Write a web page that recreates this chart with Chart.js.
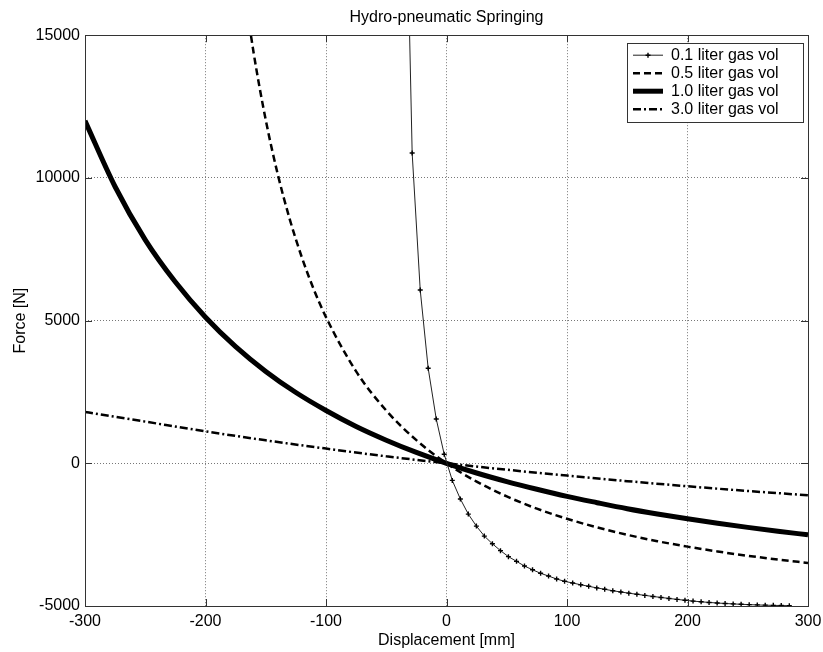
<!DOCTYPE html>
<html>
<head>
<meta charset="utf-8">
<title>Hydro-pneumatic Springing</title>
<script src="https://cdn.jsdelivr.net/npm/chart.js@4.4.0/dist/chart.umd.min.js"></script>
<style>
  html, body { margin: 0; padding: 0; background: #fff; }
</style>
</head>
<body>
<canvas id="chart" width="823" height="652"></canvas>
<script>
const chartTitle = 'Hydro-pneumatic Springing';
const xTitle = 'Displacement [mm]';
const yTitle = 'Force [N]';
const seriesLabels = ['0.1 liter gas vol', '0.5 liter gas vol', '1.0 liter gas vol', '3.0 liter gas vol'];

const xTicks = [-300, -200, -100, 0, 100, 200, 300];
const yTicks = [-5000, 0, 5000, 10000, 15000];

// 0.1 liter - sampled curve, every sample is marked
const disp01 = [-35.2, -28.5, -21.8, -15.2, -8.5, -1.9, 4.8, 11.5, 18.1, 24.8, 31.4, 38.1, 44.8, 51.4, 58.1, 64.7,
  71.4, 78.1, 84.7, 91.4, 98.0, 104.7, 111.4, 118.0, 124.7, 131.3, 138.0, 144.7, 151.3, 158.0, 164.6, 171.3,
  178.0, 184.6, 191.3, 197.9, 204.6, 211.3, 217.9, 224.6, 231.2, 237.9, 244.5, 251.2, 257.9, 264.5, 271.2,
  277.8, 284.5];
const force01 = [24000, 10870, 6070, 3330, 1550, 315, -600, -1250, -1780, -2200, -2550, -2820, -3060, -3270, -3435, -3600,
  -3730, -3855, -3950, -4055, -4135, -4195, -4255, -4310, -4365, -4415, -4465, -4510, -4550, -4590, -4628, -4665,
  -4700, -4735, -4768, -4800, -4828, -4853, -4875, -4895, -4912, -4927, -4940, -4952, -4962, -4971, -4978,
  -4984, -4990];

// 0.5 liter
const disp05 = [-170, -160, -150, -140, -130, -120, -110, -100, -75, -50, -25, 0, 25, 50, 75, 100, 125, 150, 175, 200, 225, 250, 275, 300];
const force05 = [17270, 14370, 12030, 10120, 8540, 7210, 6080, 5120, 3220, 1850, 810, 0, -640, -1160, -1590, -1945, -2245, -2505, -2730, -2920, -3090, -3240, -3370, -3490];

// 1.0 liter
const disp10 = [-300, -275, -250, -225, -200, -175, -150, -125, -100, -75, -50, -25, 0, 25, 50, 75, 100, 125, 150, 175, 200, 225, 250, 275, 300];
const force10 = [12000, 9690, 7830, 6350, 5120, 4090, 3220, 2480, 1850, 1290, 810, 380, 0, -340, -640, -910, -1160, -1380, -1590, -1775, -1945, -2100, -2245, -2380, -2505];

// 3.0 liter
const disp30 = [-300, -250, -200, -150, -100, -50, 0, 50, 100, 150, 200, 250, 300];
const force30 = [1800, 1460, 1120, 805, 515, 245, 0, -225, -430, -625, -805, -970, -1120];

const FONT = "'Liberation Sans', Arial, Helvetica, sans-serif";

function pts(xs, ys) {
    return xs.map((x, i) => ({ x: x, y: ys[i] }));
}

function drawCross(ctx, x, y, r) {
    ctx.beginPath();
    ctx.moveTo(x - r, y); ctx.lineTo(x + r, y);
    ctx.moveTo(x, y - r); ctx.lineTo(x, y + r);
    ctx.stroke();
}

// legend box inside the axes, top right (matlab style)
const legendBox = {
    id: 'legendBox',
    afterDatasetsDraw(chart) {
        const { ctx, chartArea } = chart;
        const w = 176, h = 79;
        const left = chartArea.right - 5 - w;
        const top = chartArea.top + 8;
        ctx.save();
        ctx.fillStyle = '#fff';
        ctx.fillRect(left, top, w, h);
        ctx.strokeStyle = '#333';
        ctx.lineWidth = 1;
        ctx.strokeRect(Math.round(left) + 0.5, Math.round(top) + 0.5, w, h);

        chart.data.datasets.forEach((ds, i) => {
            const cy = top + 12 + i * 18;
            ctx.strokeStyle = ds.borderColor;
            ctx.lineWidth = ds.borderWidth;
            ctx.setLineDash(ds.borderDash || []);
            ctx.beginPath();
            ctx.moveTo(left + 6, cy);
            ctx.lineTo(left + 36, cy);
            ctx.stroke();
            ctx.setLineDash([]);
            if (ds.pointRadius > 0) {
                ctx.strokeStyle = '#000';
                ctx.lineWidth = ds.pointBorderWidth;
                drawCross(ctx, left + 21, cy, ds.pointRadius);
            }
            ctx.fillStyle = '#000';
            ctx.font = '16px ' + FONT;
            ctx.textBaseline = 'middle';
            ctx.textAlign = 'left';
            ctx.fillText(ds.label, left + 44, cy);
        });
        ctx.restore();
    }
};

// axes box and inward tick marks
const frame = {
    id: 'frame',
    afterDraw(chart) {
        const { ctx, chartArea: a, scales: { x, y } } = chart;
        ctx.save();
        ctx.strokeStyle = '#333';
        ctx.lineWidth = 1;
        ctx.beginPath();
        xTicks.forEach(v => {
            const px = Math.round(x.getPixelForValue(v)) + 0.5;
            ctx.moveTo(px, a.bottom); ctx.lineTo(px, a.bottom - 7);
            ctx.moveTo(px, a.top); ctx.lineTo(px, a.top + 7);
        });
        yTicks.forEach(v => {
            const py = Math.round(y.getPixelForValue(v)) + 0.5;
            ctx.moveTo(a.left, py); ctx.lineTo(a.left + 7, py);
            ctx.moveTo(a.right, py); ctx.lineTo(a.right - 7, py);
        });
        ctx.stroke();
        ctx.strokeRect(Math.round(a.left) + 0.5, Math.round(a.top) + 0.5,
            Math.round(a.right - a.left), Math.round(a.bottom - a.top));
        ctx.restore();
    }
};

const tickFont = { family: FONT, size: 16 };

new Chart(document.getElementById('chart').getContext('2d'), {
    type: 'scatter',
    data: {
        datasets: [
            {
                label: seriesLabels[0],
                data: pts(disp01, force01),
                showLine: true,
                borderColor: '#222',
                borderWidth: 1,
                pointStyle: 'cross',
                pointRadius: 2.5,
                pointBorderWidth: 1.4,
                pointBorderColor: '#000',
                pointBackgroundColor: '#000'
            },
            {
                label: seriesLabels[1],
                data: pts(disp05, force05),
                showLine: true,
                borderColor: '#000',
                borderWidth: 2.5,
                borderDash: [7, 4],
                pointRadius: 0,
                cubicInterpolationMode: 'monotone'
            },
            {
                label: seriesLabels[2],
                data: pts(disp10, force10),
                showLine: true,
                borderColor: '#000',
                borderWidth: 5,
                pointRadius: 0,
                cubicInterpolationMode: 'monotone'
            },
            {
                label: seriesLabels[3],
                data: pts(disp30, force30),
                showLine: true,
                borderColor: '#000',
                borderWidth: 2.5,
                borderDash: [8, 3, 2, 3],
                pointRadius: 0,
                cubicInterpolationMode: 'monotone'
            }
        ]
    },
    options: {
        responsive: false,
        animation: false,
        layout: { padding: { left: 0, right: 15, top: 0, bottom: 0 } },
        plugins: {
            legend: { display: false },
            tooltip: { enabled: false },
            title: {
                display: true,
                text: chartTitle,
                fullSize: false,
                color: '#000',
                font: { family: FONT, size: 16, weight: 'normal' },
                padding: { top: 8, bottom: 8 }
            }
        },
        scales: {
            x: {
                type: 'linear',
                min: -300,
                max: 300,
                afterBuildTicks: s => { s.ticks = xTicks.map(v => ({ value: v })); },
                afterFit: s => { s.height = 46; s.paddingLeft = 0; s.paddingRight = 0; },
                ticks: { color: '#000', font: tickFont, padding: 6, maxRotation: 0, callback: v => String(v) },
                grid: { color: '#777', drawTicks: false },
                border: { display: false, dash: [1, 2] },
                title: { display: true, text: xTitle, color: '#000', font: tickFont, padding: { top: 0, bottom: 2 } }
            },
            y: {
                type: 'linear',
                min: -5000,
                max: 15000,
                afterBuildTicks: s => { s.ticks = yTicks.map(v => ({ value: v })); },
                afterFit: s => { s.width = 85; },
                ticks: { color: '#000', font: tickFont, padding: 5, callback: v => String(v) },
                grid: { color: '#777', drawTicks: false },
                border: { display: false, dash: [1, 2] },
                title: { display: true, text: yTitle, color: '#000', font: tickFont, padding: { top: 11, bottom: 0 } }
            }
        }
    },
    plugins: [legendBox, frame]
});
</script>
</body>
</html>
